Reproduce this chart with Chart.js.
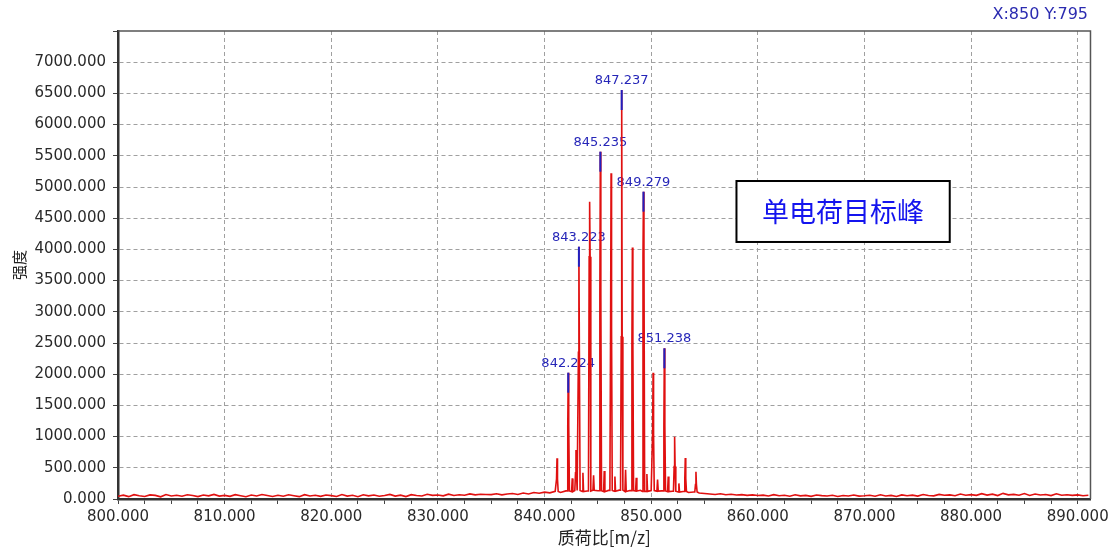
<!DOCTYPE html>
<html>
<head>
<meta charset="utf-8">
<script src="https://cdn.jsdelivr.net/npm/chart.js@4.4.0/dist/chart.umd.min.js"></script>
<style>
  html, body { margin: 0; padding: 0; background: #fff; }
</style>
</head>
<body>
<canvas id="spectrum" width="1113" height="552"></canvas>
<script>
// baseline noise, one value every 0.5 m/z starting at 800.0
var noiseStart = 800;
var noiseStep = 0.5;
var noise = [
	45, 62, 38, 70, 52, 41, 66, 58, 35, 72, 49, 60, 44, 68, 55, 39, 63, 50, 74, 47,
	58, 42, 69, 53, 37, 64, 48, 71, 56, 40, 61, 45, 67, 52, 38, 70, 49, 59, 43, 65,
	54, 41, 72, 47, 60, 36, 68, 51, 63, 44, 57, 73, 46, 62, 39, 69, 55, 48, 76, 58,
	64, 50, 78, 57, 69, 61, 82, 66, 75, 72, 70, 84, 66, 79, 88, 72, 95, 80, 104, 92,
	110, 98, 122, 105, 130, 118, 135, 120, 128, 140, 132, 118, 138, 125, 142, 120, 135, 128, 140, 122,
	136, 126, 130, 118, 125, 112, 120, 104, 112, 95, 88, 80, 72, 85, 68, 76, 64, 70, 58, 66,
	55, 62, 48, 70, 52, 60, 45, 67, 50, 58, 42, 63, 54, 47, 61, 40, 57, 49, 65, 46,
	52, 60, 44, 68, 49, 58, 41, 66, 53, 62, 47, 71, 56, 50, 74, 59, 66, 52, 80, 61,
	70, 58, 85, 63, 78, 55, 90, 66, 74, 60, 88, 57, 79, 64, 72, 54, 83, 61, 69, 58,
	66, 52, 60
];

// isotope peaks: m/z, apex intensity, intensity where the peak body widens
var peakMz = [841.17, 842.224, 842.95, 843.223, 844.23, 845.235, 846.24, 847.237, 848.24, 849.279, 850.18, 851.238, 852.2, 853.2, 854.2];
var peakInt = [652, 2024, 785, 4043, 4764, 5566, 5220, 6554, 4030, 4925, 2024, 2415, 999, 657, 438];
var peakBody = [320, 1186, 420, 2350, 3883, 3300, 2750, 2600, 2470, 3910, 1050, 1180, 520, 330, 230];

// small satellite peaks in the valleys
var satMz = [842.6, 843.6, 844.6, 845.6, 846.6, 847.6, 848.6, 849.6, 850.6, 851.6, 852.6];
var satInt = [330, 420, 380, 450, 360, 470, 340, 400, 310, 360, 250];

// annotated peaks
var labelMz = [842.224, 843.223, 845.235, 847.237, 849.279, 851.238];

var xMin = 800, xMax = 891.2, xStep = 2.5, xLabelStep = 10;
var yMin = 0, yMax = 7500, yStep = 500;

var cursorText = "X:850 Y:795";
var boxText = "单电荷目标峰";
var boxMz = [858.0, 878.0];
var boxInt = [5096, 4119];

var bodyHalf = 0.045, baseHalf = 0.11, satHalf = 0.06;

function noiseAt(mz) {
	return noise[Math.round((mz - noiseStart) / noiseStep)];
}

// merge baseline, satellites and peaks into one profile
var pts = [];
var allMz = peakMz.concat(satMz);
for (var i = 0; i < noise.length; i++) {
	var mz = noiseStart + i * noiseStep;
	var near = allMz.some(function (p) { return Math.abs(p - mz) < baseHalf + 0.01; });
	if (!near) pts.push({ x: mz, y: noise[i] });
}
for (var k = 0; k < satMz.length; k++) {
	pts.push({ x: satMz[k] - satHalf, y: noiseAt(satMz[k]) });
	pts.push({ x: satMz[k], y: satInt[k] });
	pts.push({ x: satMz[k] + satHalf, y: noiseAt(satMz[k]) });
}
for (var j = 0; j < peakMz.length; j++) {
	var base = noiseAt(peakMz[j]);
	pts.push({ x: peakMz[j] - baseHalf, y: base });
	pts.push({ x: peakMz[j] - bodyHalf, y: peakBody[j] });
	pts.push({ x: peakMz[j], y: peakInt[j] });
	pts.push({ x: peakMz[j] + bodyHalf, y: peakBody[j] });
	pts.push({ x: peakMz[j] + baseHalf, y: base });
}
pts.sort(function (a, b) { return a.x - b.x; });

function isMult(v, s) {
	var r = v / s;
	return Math.abs(r - Math.round(r)) < 1e-6;
}

var annotations = {
	id: "annotations",
	beforeDatasetsDraw: function (chart) {
		var ctx = chart.ctx, xs = chart.scales.x, ys = chart.scales.y;
		ctx.save();
		ctx.font = "13px 'DejaVu Sans'";
		ctx.fillStyle = "#2626b8";
		ctx.textAlign = "center";
		ctx.textBaseline = "alphabetic";
		labelMz.forEach(function (mz) {
			var v = peakInt[peakMz.indexOf(mz)];
			ctx.fillText(mz.toFixed(3), xs.getPixelForValue(mz), ys.getPixelForValue(v) - 6);
		});
		ctx.restore();
	},
	afterDatasetsDraw: function (chart) {
		var ctx = chart.ctx, xs = chart.scales.x, ys = chart.scales.y, a = chart.chartArea;
		ctx.save();
		// blue markers on annotated peaks
		ctx.strokeStyle = "#2020c0";
		ctx.lineWidth = 2;
		labelMz.forEach(function (mz) {
			var v = peakInt[peakMz.indexOf(mz)];
			var px = xs.getPixelForValue(mz);
			var py = ys.getPixelForValue(v);
			ctx.beginPath();
			ctx.moveTo(px, py);
			ctx.lineTo(px, py + 20);
			ctx.stroke();
		});

		// top and right frame
		ctx.strokeStyle = "#555";
		ctx.lineWidth = 1.5;
		ctx.beginPath();
		ctx.moveTo(a.left, a.top);
		ctx.lineTo(a.right, a.top);
		ctx.lineTo(a.right, a.bottom);
		ctx.stroke();

		// text box
		var bx1 = xs.getPixelForValue(boxMz[0]), bx2 = xs.getPixelForValue(boxMz[1]);
		var by1 = ys.getPixelForValue(boxInt[0]), by2 = ys.getPixelForValue(boxInt[1]);
		ctx.fillStyle = "#fff";
		ctx.fillRect(bx1, by1, bx2 - bx1, by2 - by1);
		ctx.strokeStyle = "#000";
		ctx.lineWidth = 2;
		ctx.strokeRect(bx1, by1, bx2 - bx1, by2 - by1);
		ctx.fillStyle = "#1414ee";
		ctx.font = "27px 'Noto Sans CJK SC'";
		ctx.textAlign = "center";
		ctx.textBaseline = "middle";
		ctx.fillText(boxText, (bx1 + bx2) / 2, (by1 + by2) / 2);

		// cursor readout
		ctx.fillStyle = "#2b2bb0";
		ctx.font = "16px 'DejaVu Sans'";
		ctx.textAlign = "right";
		ctx.textBaseline = "alphabetic";
		ctx.fillText(cursorText, 1088, 19);
		ctx.restore();
	}
};

var tickFont = { family: "'DejaVu Sans'", size: 15 };

new Chart(document.getElementById("spectrum"), {
	type: "line",
	data: {
		datasets: [{
			data: pts,
			borderColor: "#e01010",
			borderWidth: 1.6,
			pointRadius: 0,
			tension: 0,
			fill: false
		}]
	},
	options: {
		responsive: false,
		animation: false,
		devicePixelRatio: 1,
		parsing: false,
		layout: { padding: { top: 31, right: 22, left: 0, bottom: 0 } },
		plugins: { legend: { display: false }, tooltip: { enabled: false } },
		scales: {
			x: {
				type: "linear",
				min: xMin,
				max: xMax,
				afterFit: function (axis) { axis.height = 53; },
				ticks: {
					stepSize: xStep,
					includeBounds: false,
					autoSkip: false,
					maxRotation: 0,
					padding: 4,
					color: "#2a2a2a",
					font: tickFont,
					callback: function (v) { return isMult(v, xLabelStep) ? v.toFixed(3) : ""; }
				},
				grid: {
					color: function (c) { return c.tick && isMult(c.tick.value, xLabelStep) && c.tick.value > xMin ? "#a0a0a0" : "rgba(0,0,0,0)"; },
					tickColor: "#444",
					tickLength: 5
				},
				border: { display: true, color: "#333", width: 2.5, dash: [4, 3] },
				title: {
					display: true,
					text: "质荷比[m/z]",
					color: "#222",
					font: { family: "'Noto Sans CJK SC'", size: 17 },
					padding: { top: 0, bottom: 4 }
				}
			},
			y: {
				min: yMin,
				max: yMax,
				afterFit: function (axis) { axis.width = 118; },
				ticks: {
					stepSize: yStep,
					padding: 7,
					color: "#2a2a2a",
					font: tickFont,
					callback: function (v) { return v === yMax ? "" : v.toFixed(3); }
				},
				grid: {
					color: function (c) { return c.tick && c.tick.value > yMin && c.tick.value < yMax ? "#a0a0a0" : "rgba(0,0,0,0)"; },
					tickColor: "#444",
					tickLength: 5
				},
				border: { display: true, color: "#333", width: 2.5, dash: [4, 3] },
				title: {
					display: true,
					text: "强度",
					color: "#222",
					font: { family: "'Noto Sans CJK SC'", size: 15 },
					padding: { top: 10, bottom: 0 }
				}
			}
		}
	},
	plugins: [annotations]
});
</script>
</body>
</html>
